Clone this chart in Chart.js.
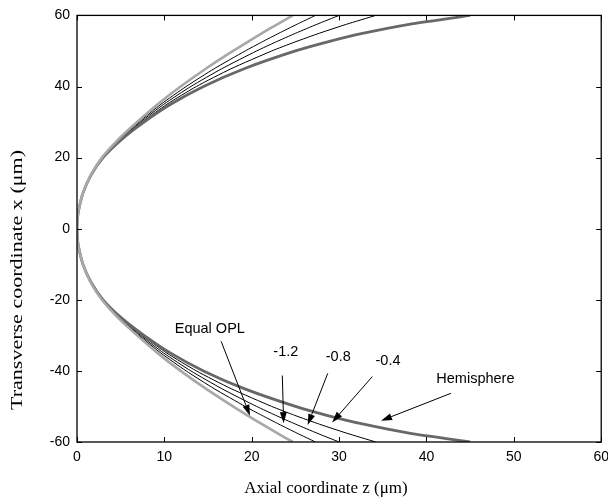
<!DOCTYPE html>
<html><head><meta charset="utf-8">
<script src="https://cdn.jsdelivr.net/npm/chart.js@4/dist/chart.umd.min.js"></script>
<style>html,body{margin:0;padding:0;background:#fff;overflow:hidden;}#wrap{width:616px;height:497px;position:relative;}</style>
</head><body><div id="wrap"><canvas id="c" width="616" height="497"></canvas></div>
<script>
// transverse coordinate x (µm)
const transverse = [-60,-57.5,-55,-52.5,-50,-45,-40,-35,-30,-25,-20,-15,-10,-5,-2.5,0,2.5,5,10,15,20,25,30,35,40,45,50,52.5,55,57.5,60];
// axial coordinate z (µm) for each surface
const zEqualOPL = [24.70,22.92,21.18,19.50,17.86,14.74,11.86,9.23,6.88,4.68,2.85,1.55,0.68,0.17,0.04,0,0.04,0.17,0.68,1.55,2.85,4.68,6.88,9.23,11.86,14.74,17.86,19.50,21.18,22.92,24.70];
const zM12 = [27.30,25.17,23.12,21.15,19.25,15.70,12.49,9.61,7.10,4.78,2.88,1.56,0.68,0.17,0.04,0,0.04,0.17,0.68,1.56,2.88,4.78,7.10,9.61,12.49,15.70,19.25,21.15,23.12,25.17,27.30];
const zM08 = [30.00,27.46,25.04,22.74,20.56,16.57,13.03,9.93,7.27,4.86,2.91,1.57,0.68,0.17,0.04,0,0.04,0.17,0.68,1.57,2.91,4.86,7.27,9.93,13.03,16.57,20.56,22.74,25.04,27.46,30.00];
const zM04 = [34.20,30.84,27.76,24.92,22.29,17.64,13.66,10.29,7.46,4.95,2.94,1.58,0.68,0.17,0.04,0,0.04,0.17,0.68,1.58,2.94,4.95,7.46,10.29,13.66,17.64,22.29,24.92,27.76,30.84,34.20];
const zHemisphere = [45.00,38.01,32.81,28.59,25.00,19.13,14.48,10.72,7.67,5.05,2.98,1.59,0.68,0.17,0.04,0,0.04,0.17,0.68,1.59,2.98,5.05,7.67,10.72,14.48,19.13,25.00,28.59,32.81,38.01,45.00];
const xTicks = [0,10,20,30,40,50,60];
const yTicks = [-60,-40,-20,0,20,40,60];

// annotations: text and arrow (data coordinates)
const notes = [
  {text:'Equal OPL', at:[15.2,-28.1], from:[16.5,-31.7], to:[19.8,-52.6]},
  {text:'-1.2', at:[23.9,-34.7], from:[23.5,-41.3], to:[23.65,-54.7]},
  {text:'-0.8', at:[29.9,-36.1], from:[28.7,-40.7], to:[26.4,-55.2]},
  {text:'-0.4', at:[35.6,-37.3], from:[33.8,-41.6], to:[29.2,-54.5]},
  {text:'Hemisphere', at:[45.6,-42.4], from:[42.8,-46.3], to:[34.8,-54.0]}
];

const pts = zs => zs.map((z,i)=>({x:z, y:transverse[i]}));
const ds = (label, zs, color, width) => ({label, data:pts(zs), borderColor:color, borderWidth:width, showLine:true, pointRadius:0, tension:0.2, fill:false});

const decor = {
  id:'decor',
  afterDraw(chart){
    const {ctx, chartArea:a, scales:{x, y}} = chart;
    ctx.save();
    // frame
    ctx.strokeStyle='#000'; ctx.lineWidth=1.3;
    ctx.strokeRect(a.left, a.top, a.right-a.left, a.bottom-a.top);
    // inward ticks on all sides
    ctx.lineWidth=1;
    ctx.beginPath();
    xTicks.forEach(v=>{const px=Math.round(x.getPixelForValue(v))+0.5;
      ctx.moveTo(px,a.bottom); ctx.lineTo(px,a.bottom-5);
      ctx.moveTo(px,a.top); ctx.lineTo(px,a.top+5);});
    yTicks.forEach(v=>{const py=Math.round(y.getPixelForValue(v))+0.5;
      ctx.moveTo(a.left,py); ctx.lineTo(a.left+5,py);
      ctx.moveTo(a.right,py); ctx.lineTo(a.right-5,py);});
    ctx.stroke();
    // annotations
    ctx.fillStyle='#000'; ctx.strokeStyle='#000';
    ctx.font='14.5px "Liberation Sans", Arial, sans-serif';
    ctx.textAlign='center'; ctx.textBaseline='middle';
    notes.forEach(n=>{
      ctx.fillText(n.text, x.getPixelForValue(n.at[0]), y.getPixelForValue(n.at[1]));
      const x1=x.getPixelForValue(n.from[0]), y1=y.getPixelForValue(n.from[1]);
      const x2=x.getPixelForValue(n.to[0]), y2=y.getPixelForValue(n.to[1]);
      const ang=Math.atan2(y2-y1,x2-x1), L=11, W=3.5;
      const bx=x2-L*Math.cos(ang), by=y2-L*Math.sin(ang);
      ctx.lineWidth=1;
      ctx.beginPath(); ctx.moveTo(x1,y1); ctx.lineTo(bx,by); ctx.stroke();
      ctx.beginPath(); ctx.moveTo(x2,y2);
      ctx.lineTo(bx+W*Math.sin(ang), by-W*Math.cos(ang));
      ctx.lineTo(bx-W*Math.sin(ang), by+W*Math.cos(ang));
      ctx.closePath(); ctx.fill();
    });
    // axis titles
    ctx.font='17px "Liberation Serif", "Times New Roman", serif';
    ctx.textAlign='center'; ctx.textBaseline='alphabetic';
    ctx.fillText('Axial coordinate z (\u03bcm)', 326, 493);
    const yt='Transverse coordinate x (\u03bcm)';
    const w=ctx.measureText(yt).width, k=260/w;
    ctx.translate(22,280); ctx.rotate(-Math.PI/2); ctx.scale(k,1);
    ctx.fillText(yt,0,0);
    ctx.restore();
  }
};

new Chart(document.getElementById('c'), {
  type:'scatter',
  data:{datasets:[
    ds('Equal OPL', zEqualOPL, '#a8a8a8', 2.6),
    ds('Hemisphere', zHemisphere, '#686868', 2.8),
    ds('-1.2', zM12, '#000', 1),
    ds('-0.8', zM08, '#000', 1),
    ds('-0.4', zM04, '#000', 1)
  ]},
  options:{
    responsive:false, animation:false, devicePixelRatio:1,
    layout:{padding:{left:0, right:14, top:13, bottom:0}},
    plugins:{legend:{display:false}, tooltip:{enabled:false}},
    scales:{
      x:{type:'linear', min:0, max:60,
        afterBuildTicks:s=>{s.ticks=xTicks.map(v=>({value:v}));},
        afterFit:s=>{s.height=55;},
        grid:{display:false, drawTicks:false}, border:{display:false},
        ticks:{color:'#000', padding:7, font:{family:'"Liberation Sans", Arial, sans-serif', size:14}}},
      y:{type:'linear', min:-60, max:60,
        afterBuildTicks:s=>{s.ticks=yTicks.map(v=>({value:v}));},
        afterFit:s=>{s.width=77;},
        grid:{display:false, drawTicks:false}, border:{display:false},
        ticks:{color:'#000', padding:7, font:{family:'"Liberation Sans", Arial, sans-serif', size:14}}}
    }
  },
  plugins:[decor]
});
</script></body></html>
